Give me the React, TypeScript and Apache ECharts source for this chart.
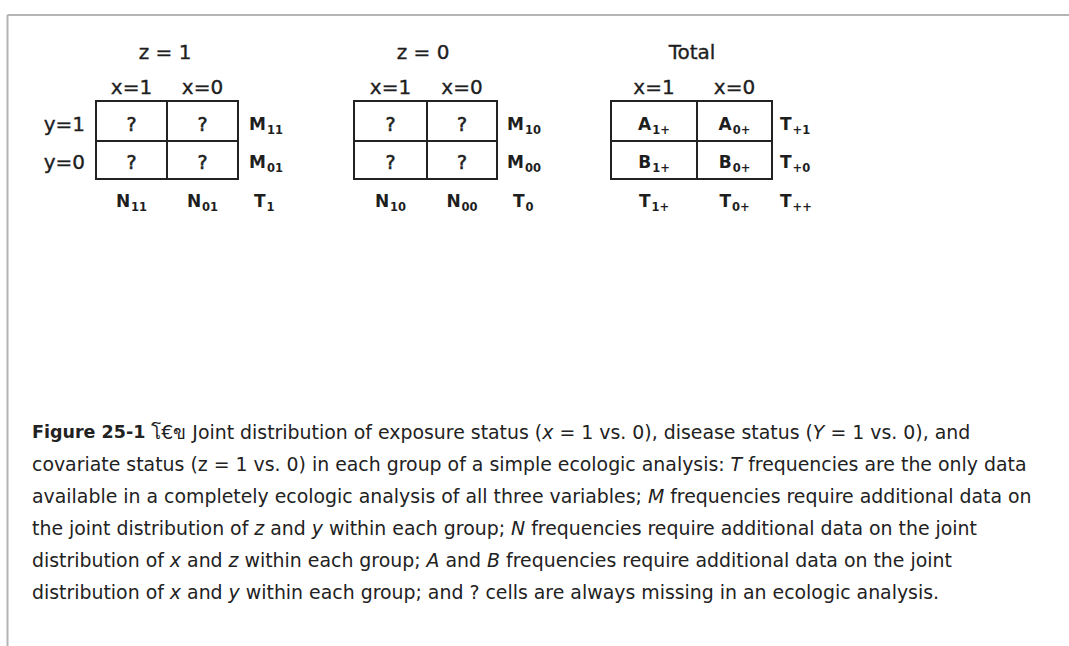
import React, { useEffect, useRef } from "react";
import * as echarts from "echarts";

// ---------- content ----------
const panelTitles = ["z = 1", "z = 0", "Total"];
const columnLabels = ["x=1", "x=0"];
const rowLabels = ["y=1", "y=0"];
const cellLabels: [string, string][][][] = [
  [[["?", ""], ["?", ""]], [["?", ""], ["?", ""]]],
  [[["?", ""], ["?", ""]], [["?", ""], ["?", ""]]],
  [[["A", "1+"], ["A", "0+"]], [["B", "1+"], ["B", "0+"]]],
];
const rowMarginLabels: [string, string][][] = [
  [["M", "11"], ["M", "01"]],
  [["M", "10"], ["M", "00"]],
  [["T", "+1"], ["T", "+0"]],
];
const columnMarginLabels: [string, string][][] = [
  [["N", "11"], ["N", "01"]],
  [["N", "10"], ["N", "00"]],
  [["T", "1+"], ["T", "0+"]],
];
const grandTotalLabels: [string, string][] = [["T", "1"], ["T", "0"], ["T", "++"]];

// caption: [style, text]
const captionLines: [string, string][][] = [
  [["b", "Figure 25-1"], ["n", " โ€ข Joint distribution of exposure status ("], ["i", "x"], ["n", " = 1 vs. 0), disease status ("], ["i", "Y"], ["n", " = 1 vs. 0), and"]],
  [["n", "covariate status (z = 1 vs. 0) in each group of a simple ecologic analysis: "], ["i", "T"], ["n", " frequencies are the only data"]],
  [["n", "available in a completely ecologic analysis of all three variables; "], ["i", "M"], ["n", " frequencies require additional data on"]],
  [["n", "the joint distribution of "], ["i", "z"], ["n", " and "], ["i", "y"], ["n", " within each group; "], ["i", "N"], ["n", " frequencies require additional data on the joint"]],
  [["n", "distribution of "], ["i", "x"], ["n", " and "], ["i", "z"], ["n", " within each group; "], ["i", "A"], ["n", " and "], ["i", "B"], ["n", " frequencies require additional data on the joint"]],
  [["n", "distribution of "], ["i", "x"], ["n", " and "], ["i", "y"], ["n", " within each group; and ? cells are always missing in an ecologic analysis."]],
];

// ---------- layout ----------
const panelLayout = [
  { left: 96, mid: 167, right: 238, titleX: 165, marginX: 249, totalX: 254 },
  { left: 354, mid: 427, right: 497, titleX: 423, marginX: 507, totalX: 513 },
  { left: 611, mid: 697, right: 772, titleX: 692, marginX: 780, totalX: 780 },
];
const tableTop = 101;
const tableMid = 141;
const tableBottom = 179;
const titleY = 52;
const colLabelY = 87;
const rowTextY = [124, 162];
const bottomLabelY = 201;
const rowLabelRight = 85;

const captionX = 32;
const captionY0 = 432;
const captionLineGap = 32;

const INK = "#1e1e1e";
const TABLE_FONT = "DejaVu Sans";
const CAPTION_FONT = "DejaVu Sans";

function plainText(text: string, x: number, y: number, align: string, size = 19, weight = 0.35) {
  return {
    type: "text",
    x,
    y,
    silent: true,
    style: {
      text,
      align,
      verticalAlign: "middle",
      fontFamily: TABLE_FONT,
      fontSize: size,
      fill: INK,
      stroke: INK,
      lineWidth: weight,
    },
  };
}

function label(main: string, sub: string, x: number, y: number, align: string) {
  if (!sub) return plainText(main, x, y, align, 19, 0.6);
  const text = `{m|${main}}{s|${sub}}`;
  return {
    type: "text",
    x,
    y,
    silent: true,
    style: {
      text,
      align,
      verticalAlign: "middle",
      rich: {
        m: {
          fontFamily: TABLE_FONT,
          fontSize: 17,
          fontWeight: "bold",
          fill: INK,
          lineHeight: 22,
          verticalAlign: "middle",
        },
        s: {
          fontFamily: TABLE_FONT,
          fontSize: 11.5,
          fontWeight: "bold",
          fill: INK,
          lineHeight: 8,
          verticalAlign: "middle",
          padding: [11, 0, 0, 1],
        },
      },
    },
  };
}

function buildElements() {
  const els: any[] = [];
  // frame
  els.push({
    type: "line",
    silent: true,
    shape: { x1: 7.5, y1: 15, x2: 1069, y2: 15 },
    style: { stroke: "#b4b4b4", lineWidth: 2 },
  });
  els.push({
    type: "line",
    silent: true,
    shape: { x1: 7.5, y1: 15, x2: 7.5, y2: 646 },
    style: { stroke: "#b4b4b4", lineWidth: 2 },
  });

  panelTitles.forEach((title, p) => {
    const L = panelLayout[p];
    const colCenters = [(L.left + L.mid) / 2, (L.mid + L.right) / 2];
    els.push(plainText(title, L.titleX, titleY, "center", 20));
    columnLabels.forEach((c, ci) => {
      els.push(plainText(c, colCenters[ci], colLabelY, "center", 20));
    });
    // table lines
    els.push({
      type: "rect",
      silent: true,
      shape: { x: L.left, y: tableTop, width: L.right - L.left, height: tableBottom - tableTop },
      style: { fill: "none", stroke: "#222", lineWidth: 2 },
    });
    els.push({
      type: "line",
      silent: true,
      shape: { x1: L.mid, y1: tableTop, x2: L.mid, y2: tableBottom },
      style: { stroke: "#222", lineWidth: 2 },
    });
    els.push({
      type: "line",
      silent: true,
      shape: { x1: L.left, y1: tableMid, x2: L.right, y2: tableMid },
      style: { stroke: "#222", lineWidth: 2 },
    });
    // cells
    cellLabels[p].forEach((row, ri) => {
      row.forEach(([m, s], ci) => {
        els.push(label(m, s, colCenters[ci], rowTextY[ri], "center"));
      });
    });
    // row margins
    rowMarginLabels[p].forEach(([m, s], ri) => {
      els.push(label(m, s, L.marginX, rowTextY[ri], "left"));
    });
    // column margins
    columnMarginLabels[p].forEach(([m, s], ci) => {
      els.push(label(m, s, colCenters[ci], bottomLabelY, "center"));
    });
    const [gm, gs] = grandTotalLabels[p];
    els.push(label(gm, gs, L.totalX, bottomLabelY, "left"));
  });

  // row labels (only for first panel)
  rowLabels.forEach((r, ri) => {
    els.push(plainText(r, rowLabelRight, rowTextY[ri], "right", 20));
  });

  // caption
  captionLines.forEach((segs, i) => {
    els.push({
      type: "text",
      x: captionX,
      y: captionY0 + i * captionLineGap,
      silent: true,
      style: {
        text: segs.map(([k, t]) => `{${k}|${t}}`).join(""),
        align: "left",
        verticalAlign: "middle",
        rich: {
          b: { fontFamily: CAPTION_FONT, fontSize: 17.5, fontWeight: "bold", fill: "#222" },
          n: { fontFamily: CAPTION_FONT, fontSize: 18.9, fill: "#222" },
          i: { fontFamily: CAPTION_FONT, fontSize: 18.9, fontStyle: "italic", fill: "#222" },
        },
      },
    });
  });
  return els;
}

export default function App() {
  const ref = useRef<HTMLDivElement>(null);
  useEffect(() => {
    if (!ref.current) return;
    const chart = echarts.init(ref.current, undefined, { renderer: "svg" });
    chart.setOption({
      animation: false,
      backgroundColor: "#ffffff",
      graphic: { elements: buildElements() },
    });
    return () => chart.dispose();
  }, []);
  return (
    <div
      ref={ref}
      style={{ position: "absolute", left: 0, top: 0, width: 1069, height: 646, background: "#fff" }}
    />
  );
}
